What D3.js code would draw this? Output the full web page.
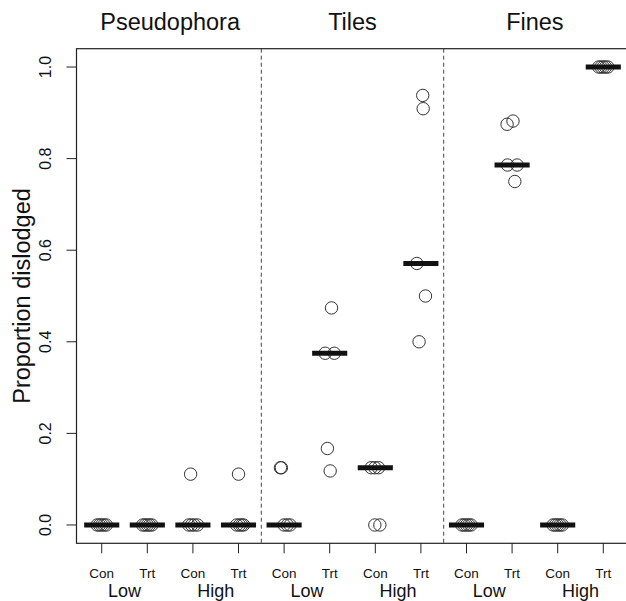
<!DOCTYPE html>
<html>
<head>
<meta charset="utf-8">
<script src="https://cdn.jsdelivr.net/npm/d3@7"></script>
<style>
  html, body { margin: 0; padding: 0; background: #fff; }
  svg { display: block; }
  text { font-family: "Liberation Sans", Arial, Helvetica, sans-serif; fill: #111; }
</style>
</head>
<body>
<svg id="chart" width="626" height="601"></svg>
<script>
// ---- data ----
const substrates = ["Pseudophora", "Tiles", "Fines"];
const densities = ["Low", "High"];
const treatments = ["Con", "Trt"];
const yTicks = [0, 0.2, 0.4, 0.6, 0.8, 1.0];

// proportion dislodged per group (order: substrate > density > treatment)
const values = [
  [0, 0, 0, 0, 0],
  [0, 0, 0, 0, 0],
  [0.111, 0, 0, 0, 0],
  [0.111, 0, 0, 0, 0],
  [0.125, 0.125, 0, 0, 0],
  [0.474, 0.375, 0.375, 0.167, 0.118],
  [0.125, 0.125, 0.125, 0, 0],
  [0.938, 0.909, 0.571, 0.5, 0.4],
  [0, 0, 0, 0, 0],
  [0.875, 0.882, 0.786, 0.786, 0.75],
  [0, 0, 0, 0, 0],
  [1, 1, 1, 1, 1]
];
// horizontal jitter (in group units)
const jitter = [
  [-0.1, -0.05, 0, 0.05, 0.1],
  [-0.1, -0.05, 0, 0.05, 0.1],
  [-0.05, -0.09, -0.03, 0.03, 0.1],
  [0, -0.04, 0.02, 0.07, 0.11],
  [-0.08, -0.06, 0, 0.07, 0.13],
  [0.04, -0.1, 0.1, -0.05, 0.01],
  [-0.09, -0.01, 0.07, -0.01, 0.1],
  [0.04, 0.05, -0.09, 0.1, -0.04],
  [-0.1, -0.05, 0, 0.05, 0.1],
  [-0.11, 0.02, -0.1, 0.11, 0.06],
  [-0.1, -0.05, 0, 0.05, 0.1],
  [-0.1, -0.05, 0, 0.05, 0.1]
];

// ---- layout ----
const svg = d3.select("#chart");
const x = d3.scaleLinear().domain([0.447, 12.553]).range([76.5, 628.5]);
const y = d3.scaleLinear().domain([-0.04, 1.04]).range([543.3, 48.7]);
const [x0, x1] = x.range();
const [yb, yt] = y.range();
const ink = "#222";

// groups
const groups = [];
substrates.forEach((s, si) => densities.forEach((d, di) => treatments.forEach((t, ti) => {
  groups.push({ s, d, t, pos: si * 4 + di * 2 + ti + 1 });
})));

// dashed separators
[4.5, 8.5].forEach(p => {
  svg.append("line")
    .attr("x1", x(p)).attr("x2", x(p)).attr("y1", yt).attr("y2", yb)
    .attr("stroke", "#444").attr("stroke-width", 1).attr("stroke-dasharray", "4,3");
});

// points
groups.forEach((g, gi) => {
  values[gi].forEach((v, k) => {
    svg.append("circle")
      .attr("cx", x(g.pos + jitter[gi][k]))
      .attr("cy", y(v))
      .attr("r", 6.2)
      .attr("fill", "none")
      .attr("stroke", "#333")
      .attr("stroke-width", 1);
  });
});

// median bars
groups.forEach((g, gi) => {
  const m = d3.median(values[gi]);
  svg.append("line")
    .attr("x1", x(g.pos - 0.385)).attr("x2", x(g.pos + 0.385))
    .attr("y1", y(m)).attr("y2", y(m))
    .attr("stroke", "#111").attr("stroke-width", 5);
});

// box
svg.append("rect")
  .attr("x", x0).attr("y", yt).attr("width", x1 - x0).attr("height", yb - yt)
  .attr("fill", "none").attr("stroke", ink).attr("stroke-width", 1.2);

// y axis
const yAxis = svg.append("g");
yTicks.forEach(t => {
  yAxis.append("line")
    .attr("x1", x0 - 10).attr("x2", x0).attr("y1", y(t)).attr("y2", y(t))
    .attr("stroke", ink).attr("stroke-width", 1);
  yAxis.append("text")
    .attr("transform", `translate(51,${y(t)}) rotate(-90)`)
    .attr("text-anchor", "middle")
    .attr("font-size", 16)
    .text(d3.format(".1f")(t));
});
svg.append("text")
  .attr("transform", `translate(30,${(yt + yb) / 2}) rotate(-90)`)
  .attr("text-anchor", "middle")
  .attr("font-size", 23.5)
  .text("Proportion dislodged");

// x axis ticks + labels
groups.forEach(g => {
  svg.append("line")
    .attr("x1", x(g.pos)).attr("x2", x(g.pos)).attr("y1", yb).attr("y2", yb + 10)
    .attr("stroke", ink).attr("stroke-width", 1);
  svg.append("text")
    .attr("x", x(g.pos)).attr("y", 577.5)
    .attr("text-anchor", "middle").attr("font-size", 13.5)
    .text(g.t);
});
substrates.forEach((s, si) => densities.forEach((d, di) => {
  const p = si * 4 + di * 2 + 1.5;
  svg.append("text")
    .attr("x", x(p)).attr("y", 597)
    .attr("text-anchor", "middle").attr("font-size", 18)
    .text(d);
}));

// panel titles
substrates.forEach((s, si) => {
  svg.append("text")
    .attr("x", x(si * 4 + 2.5)).attr("y", 30)
    .attr("text-anchor", "middle").attr("font-size", 23.5)
    .text(s);
});
</script>
</body>
</html>
